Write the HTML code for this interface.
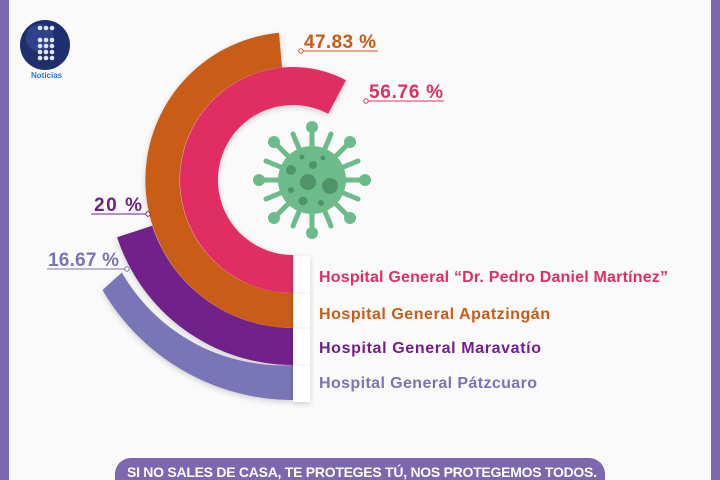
<!DOCTYPE html>
<html><head><meta charset="utf-8"><style>
html,body{margin:0;padding:0;width:720px;height:480px;overflow:hidden;background:#fafafa;font-family:"Liberation Sans",sans-serif}
</style></head><body>
<svg width="720" height="480" viewBox="0 0 720 480" xmlns="http://www.w3.org/2000/svg">
<defs><filter id="sh" x="-20%" y="-20%" width="140%" height="140%"><feDropShadow dx="0" dy="2" stdDeviation="3" flood-color="#000" flood-opacity="0.18"/></filter></defs>
<rect width="720" height="480" fill="#fafafa"/>
<rect x="0" y="0" width="9" height="480" fill="#7b68b0"/>
<rect x="711" y="0" width="9" height="480" fill="#7b68b0"/>
<g filter="url(#sh)">
<path d="M293,400 A220,220 0 0 1 102.5,290 L121.8,272.5 A185,185 0 0 0 293,365 Z" fill="#7a74b6"/>
<path d="M293,365 A185,185 0 0 1 117.1,237.2 L152.2,225.7 A148,148 0 0 0 293,328 Z" fill="#71208a"/>
<path d="M293,328 A148,148 0 0 1 279,32.7 L282,67.5 A113,113 0 0 0 293,293 Z" fill="#c95b15"/>
<path d="M293,293 A113,113 0 1 1 346,80.2 L328.2,113.8 A75,75 0 1 0 293,255 Z" fill="#e02e62"/>
</g>
<rect x="293" y="256" width="17" height="146" fill="#fff" filter="url(#sh)"/>
<line x1="293" y1="293" x2="310" y2="293" stroke="#eee"/>
<line x1="293" y1="328" x2="310" y2="328" stroke="#eee"/>
<line x1="293" y1="365" x2="310" y2="365" stroke="#eee"/>
<g fill="#6dbb8a" stroke="#6dbb8a">
<g stroke-width="5" stroke-linecap="round">
<line x1="312" y1="180" x2="312" y2="130"/><line x1="312" y1="180" x2="312" y2="230"/>
<line x1="312" y1="180" x2="262" y2="180"/><line x1="312" y1="180" x2="362" y2="180"/>
<line x1="312" y1="180" x2="277" y2="145"/><line x1="312" y1="180" x2="347" y2="145"/>
<line x1="312" y1="180" x2="277" y2="215"/><line x1="312" y1="180" x2="347" y2="215"/>
<line x1="312" y1="180" x2="293" y2="134"/><line x1="312" y1="180" x2="331" y2="134"/>
<line x1="312" y1="180" x2="293" y2="226"/><line x1="312" y1="180" x2="331" y2="226"/>
<line x1="312" y1="180" x2="266" y2="161"/><line x1="312" y1="180" x2="358" y2="161"/>
<line x1="312" y1="180" x2="266" y2="199"/><line x1="312" y1="180" x2="358" y2="199"/>
</g>
<circle cx="312" cy="180" r="34" stroke="none"/>
<g stroke="none">
<circle cx="312" cy="127" r="6"/><circle cx="312" cy="233" r="6"/><circle cx="259" cy="180" r="6"/><circle cx="365" cy="180" r="6"/>
<circle cx="274" cy="142" r="6"/><circle cx="350" cy="142" r="6"/><circle cx="274" cy="218" r="6"/><circle cx="350" cy="218" r="6"/>
</g>
</g>
<g fill="#4f9468">
<circle cx="308" cy="182" r="8"/><circle cx="330" cy="186" r="8"/><circle cx="291" cy="170" r="5"/><circle cx="313" cy="165" r="4"/>
<circle cx="303" cy="201" r="4.5"/><circle cx="321" cy="203" r="3"/><circle cx="291" cy="190" r="3"/><circle cx="323" cy="158" r="2.5"/><circle cx="302" cy="157" r="2.5"/>
</g>
<g font-weight="bold" font-size="19">
<text x="304" y="48" fill="#c95b15" textLength="72">47.83 %</text>
<line x1="302" y1="51" x2="378" y2="51" stroke="#c95b15" stroke-width="1"/><circle cx="301" cy="51" r="2.2" fill="#fff" stroke="#c95b15"/>
<text x="369" y="98" fill="#e02e62" textLength="74">56.76 %</text>
<line x1="367" y1="101" x2="444" y2="101" stroke="#e02e62" stroke-width="1"/><circle cx="366" cy="101" r="2.2" fill="#fff" stroke="#e02e62"/>
<text x="94" y="211" fill="#71208a" textLength="48">20 %</text>
<line x1="91" y1="214" x2="146" y2="214" stroke="#71208a" stroke-width="1"/><circle cx="148" cy="214" r="2.2" fill="#fff" stroke="#71208a"/>
<text x="48" y="266" fill="#7a74b6" textLength="71">16.67 %</text>
<line x1="47" y1="269" x2="125" y2="269" stroke="#7a74b6" stroke-width="1"/><circle cx="127" cy="269" r="2.2" fill="#fff" stroke="#7a74b6"/>
</g>
<g font-weight="bold" font-size="16">
<text x="319" y="282" fill="#e02e62" textLength="349">Hospital General “Dr. Pedro Daniel Martínez”</text>
<text x="319" y="319" fill="#c95b15" textLength="231">Hospital General Apatzingán</text>
<text x="319" y="353" fill="#71208a" textLength="222">Hospital General Maravatío</text>
<text x="319" y="388" fill="#7a74b6" textLength="218">Hospital General Pátzcuaro</text>
</g>
<rect x="115" y="458" width="490" height="40" rx="16" fill="#7b68b0"/>
<text x="362" y="477" fill="#fff" font-weight="bold" font-size="14" text-anchor="middle" textLength="470">SI NO SALES DE CASA, TE PROTEGES TÚ, NOS PROTEGEMOS TODOS.</text>
<circle cx="45" cy="45" r="25" fill="#1f2f6e"/>
<circle cx="40" cy="38" r="14" fill="#3a4f9a" opacity="0.6"/>
<g fill="#dfe6f5"><circle cx="40" cy="28" r="2.3"/><circle cx="46" cy="28" r="2.3"/><circle cx="52" cy="28" r="2.3"/>
<circle cx="40" cy="40" r="2.3"/><circle cx="46" cy="40" r="2.3"/><circle cx="52" cy="40" r="2.3"/>
<circle cx="40" cy="46" r="2.3"/><circle cx="46" cy="46" r="2.3"/><circle cx="52" cy="46" r="2.3"/>
<circle cx="40" cy="52" r="2.3"/><circle cx="46" cy="52" r="2.3"/><circle cx="52" cy="52" r="2.3"/>
<circle cx="40" cy="58" r="2.3"/><circle cx="46" cy="58" r="2.3"/><circle cx="52" cy="58" r="2.3"/></g>
<text x="31" y="78" fill="#2a7bd6" font-weight="bold" font-size="8">Noticias</text>
</svg>
</body></html>
